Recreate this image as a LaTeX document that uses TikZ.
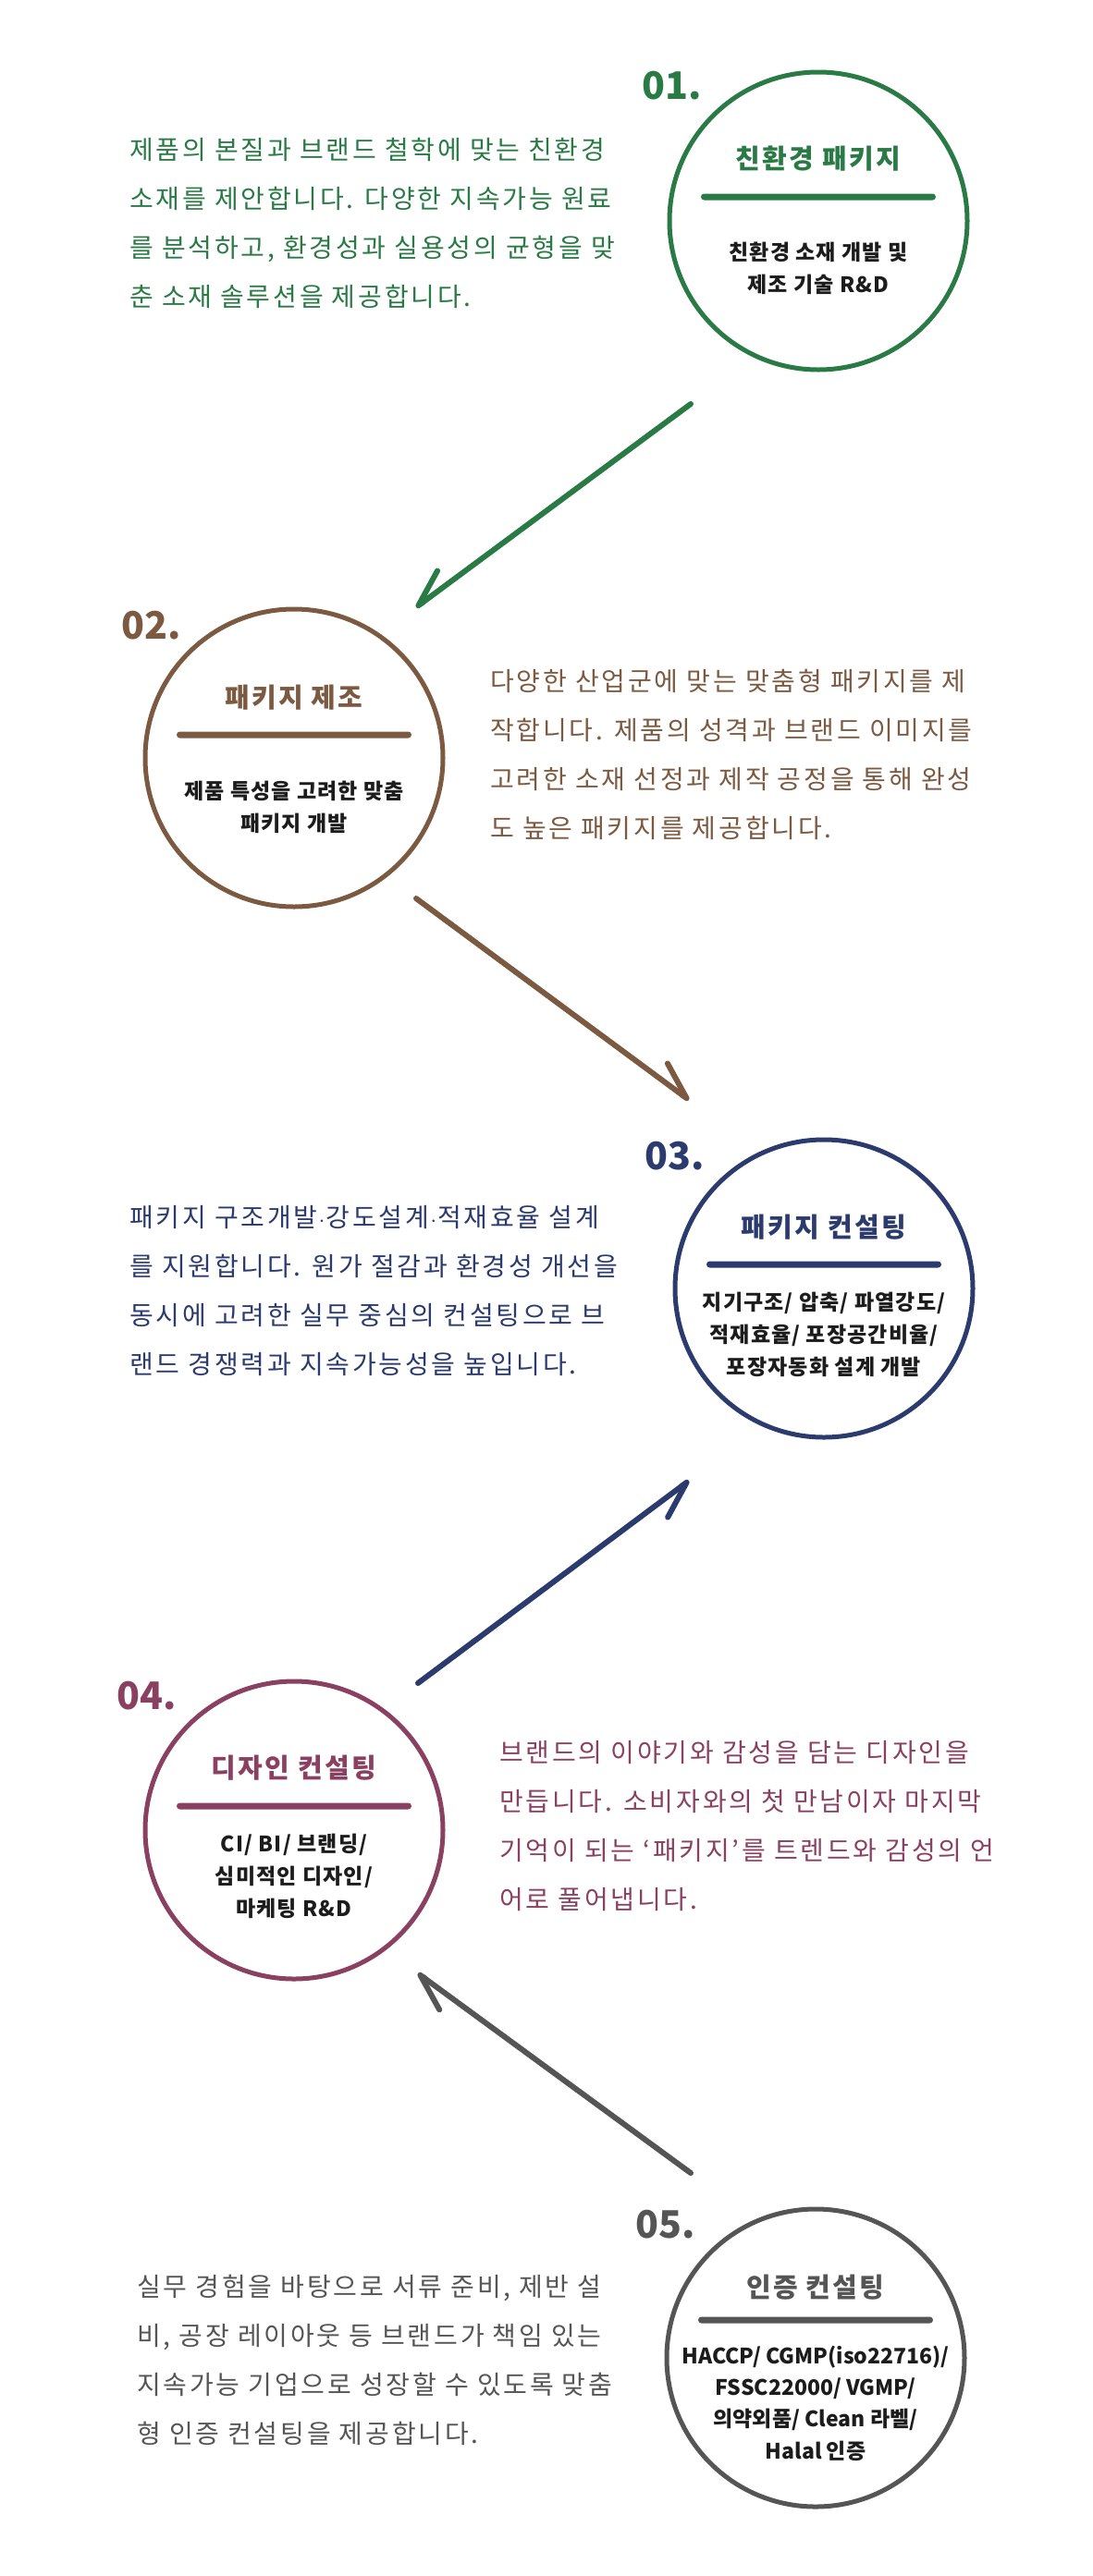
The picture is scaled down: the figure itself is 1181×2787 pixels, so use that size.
\documentclass[tikz,border=0pt]{standalone}
\usepackage{fontspec}
\setmainfont{Noto Sans CJK KR}
\newfontfamily\bodyfont[LetterSpace=10]{Noto Sans CJK KR}
\newfontfamily\headfont[LetterSpace=8]{Noto Sans CJK KR}
\newfontfamily\subfont[LetterSpace=5]{Noto Sans CJK KR}
\newcommand\mdot{\kern.04em$\cdot$\kern.04em}
\usetikzlibrary{arrows.meta}

\definecolor{ecogreen}{HTML}{2A7A46}
\definecolor{packbrown}{HTML}{7B5A41}
\definecolor{consnavy}{HTML}{2C3B6E}
\definecolor{designwine}{HTML}{8A4060}
\definecolor{certgray}{HTML}{555555}
\definecolor{subink}{HTML}{1C1C1C}

\tikzset{
  stepcirc/.style={circle, draw=#1, line width=5pt, minimum size=322pt, inner sep=0pt},
  stepnum/.style={text=#1, font=\fontsize{41}{41}\selectfont\bfseries, inner sep=0pt},
  steptitle/.style={text=#1, font=\headfont\fontsize{29}{29}\selectfont\bfseries, inner sep=0pt},
  stepbar/.style={fill=#1, rectangle, rounded corners=3.5pt, minimum width=254pt, minimum height=7pt, inner sep=0pt},
  stepsub/.style={text=subink, font=\subfont\fontsize{23}{35}\selectfont\bfseries, align=center, inner sep=0pt},
  steptext/.style={text=#1, font=\bodyfont\fontsize{28}{53}\selectfont, align=left, anchor=west, inner sep=0pt},
  tipleft/.style={draw=#1, line width=6pt, line cap=round, -{Straight Barb[harpoon, length=39pt, width=36pt, round]}},
  tipright/.style={draw=#1, line width=6pt, line cap=round, -{Straight Barb[harpoon, swap, length=39pt, width=36pt, round]}}
}

\begin{document}
\begin{tikzpicture}[x=1pt, y=-1pt]
\useasboundingbox (0,0) rectangle (1181,2787);
\fill[white] (0,0) rectangle (1181,2787);

% 01
\node[stepcirc=ecogreen] (c1) at (885,239) {};
\node[stepnum=ecogreen] (n1) at (727,93) {01.};
\node[steptitle=ecogreen] (t1) at (885,172) {친환경 패키지};
\node[stepbar=ecogreen] (b1) at (885,213) {};
\node[stepsub] (s1) at (885,290) {친환경 소재 개발 및\\제조 기술 R\&D};
\node[steptext=ecogreen] (p1) at (140,241) {제품의 본질과 브랜드 철학에 맞는 친환경\\소재를 제안합니다. 다양한 지속가능 원료\\를 분석하고, 환경성과 실용성의 균형을 맞\\춘 소재 솔루션을 제공합니다.};

% 02
\node[stepcirc=packbrown] (c2) at (318,820) {};
\node[stepnum=packbrown] (n2) at (164,677) {02.};
\node[steptitle=packbrown] (t2) at (318,755) {패키지 제조};
\node[stepbar=packbrown] (b2) at (318,795) {};
\node[stepsub] (s2) at (318,873) {제품 특성을 고려한 맞춤\\패키지 개발};
\node[steptext=packbrown] (p2) at (530,816) {다양한 산업군에 맞는 맞춤형 패키지를 제\\작합니다. 제품의 성격과 브랜드 이미지를\\고려한 소재 선정과 제작 공정을 통해 완성\\도 높은 패키지를 제공합니다.};

% 03
\node[stepcirc=consnavy] (c3) at (891,1394) {};
\node[stepnum=consnavy] (n3) at (730,1251) {03.};
\node[steptitle=consnavy] (t3) at (891,1328) {패키지 컨설팅};
\node[stepbar=consnavy] (b3) at (891,1368) {};
\node[stepsub] (s3) at (891,1444) {지기구조/ 압축/ 파열강도/\\적재효율/ 포장공간비율/\\포장자동화 설계 개발};
\node[steptext=consnavy] (p3) at (140,1397) {패키지 구조개발\mdot 강도설계\mdot 적재효율 설계\\를 지원합니다. 원가 절감과 환경성 개선을\\동시에 고려한 실무 중심의 컨설팅으로 브\\랜드 경쟁력과 지속가능성을 높입니다.};

% 04
\node[stepcirc=designwine] (c4) at (318,1980) {};
\node[stepnum=designwine] (n4) at (159,1835) {04.};
\node[steptitle=designwine] (t4) at (318,1913) {디자인 컨설팅};
\node[stepbar=designwine] (b4) at (318,1954) {};
\node[stepsub] (s4) at (318,2030) {CI/ BI/ 브랜딩/\\심미적인 디자인/\\마케팅 R\&D};
\node[steptext=designwine] (p4) at (540,1976) {브랜드의 이야기와 감성을 담는 디자인을\\만듭니다. 소비자와의 첫 만남이자 마지막\\기억이 되는 ‘패키지’를 트렌드와 감성의 언\\어로 풀어냅니다.};

% 05
\node[stepcirc=certgray] (c5) at (882,2551) {};
\node[stepnum=certgray] (n5) at (720,2407) {05.};
\node[steptitle=certgray] (t5) at (882,2475) {인증 컨설팅};
\node[stepbar=certgray] (b5) at (882,2510) {};
\node[stepsub, font=\fontsize{23}{34.3}\selectfont\bfseries] (s5) at (882,2600) {HACCP/ CGMP(iso22716)/\\FSSC22000/ VGMP/\\의약외품/ Clean 라벨/\\Halal 인증};
\node[steptext=certgray] (p5) at (148,2553) {실무 경험을 바탕으로 서류 준비, 제반 설\\비, 공장 레이아웃 등 브랜드가 책임 있는\\지속가능 기업으로 성장할 수 있도록 맞춤\\형 인증 컨설팅을 제공합니다.};

% arrows
\coordinate (a1s) at (747,437);
\coordinate (a1e) at (450,657);
\coordinate (a2s) at (450,972);
\coordinate (a2e) at (745,1190);
\coordinate (a3s) at (452,1821);
\coordinate (a3e) at (745,1602);
\coordinate (a4s) at (747,2351);
\coordinate (a4e) at (452,2135);
\draw[tipright=ecogreen] (a1s) -- (a1e);
\draw[tipleft=packbrown] (a2s) -- (a2e);
\draw[tipright=consnavy] (a3s) -- (a3e);
\draw[tipleft=certgray] (a4s) -- (a4e);
\end{tikzpicture}
\end{document}
